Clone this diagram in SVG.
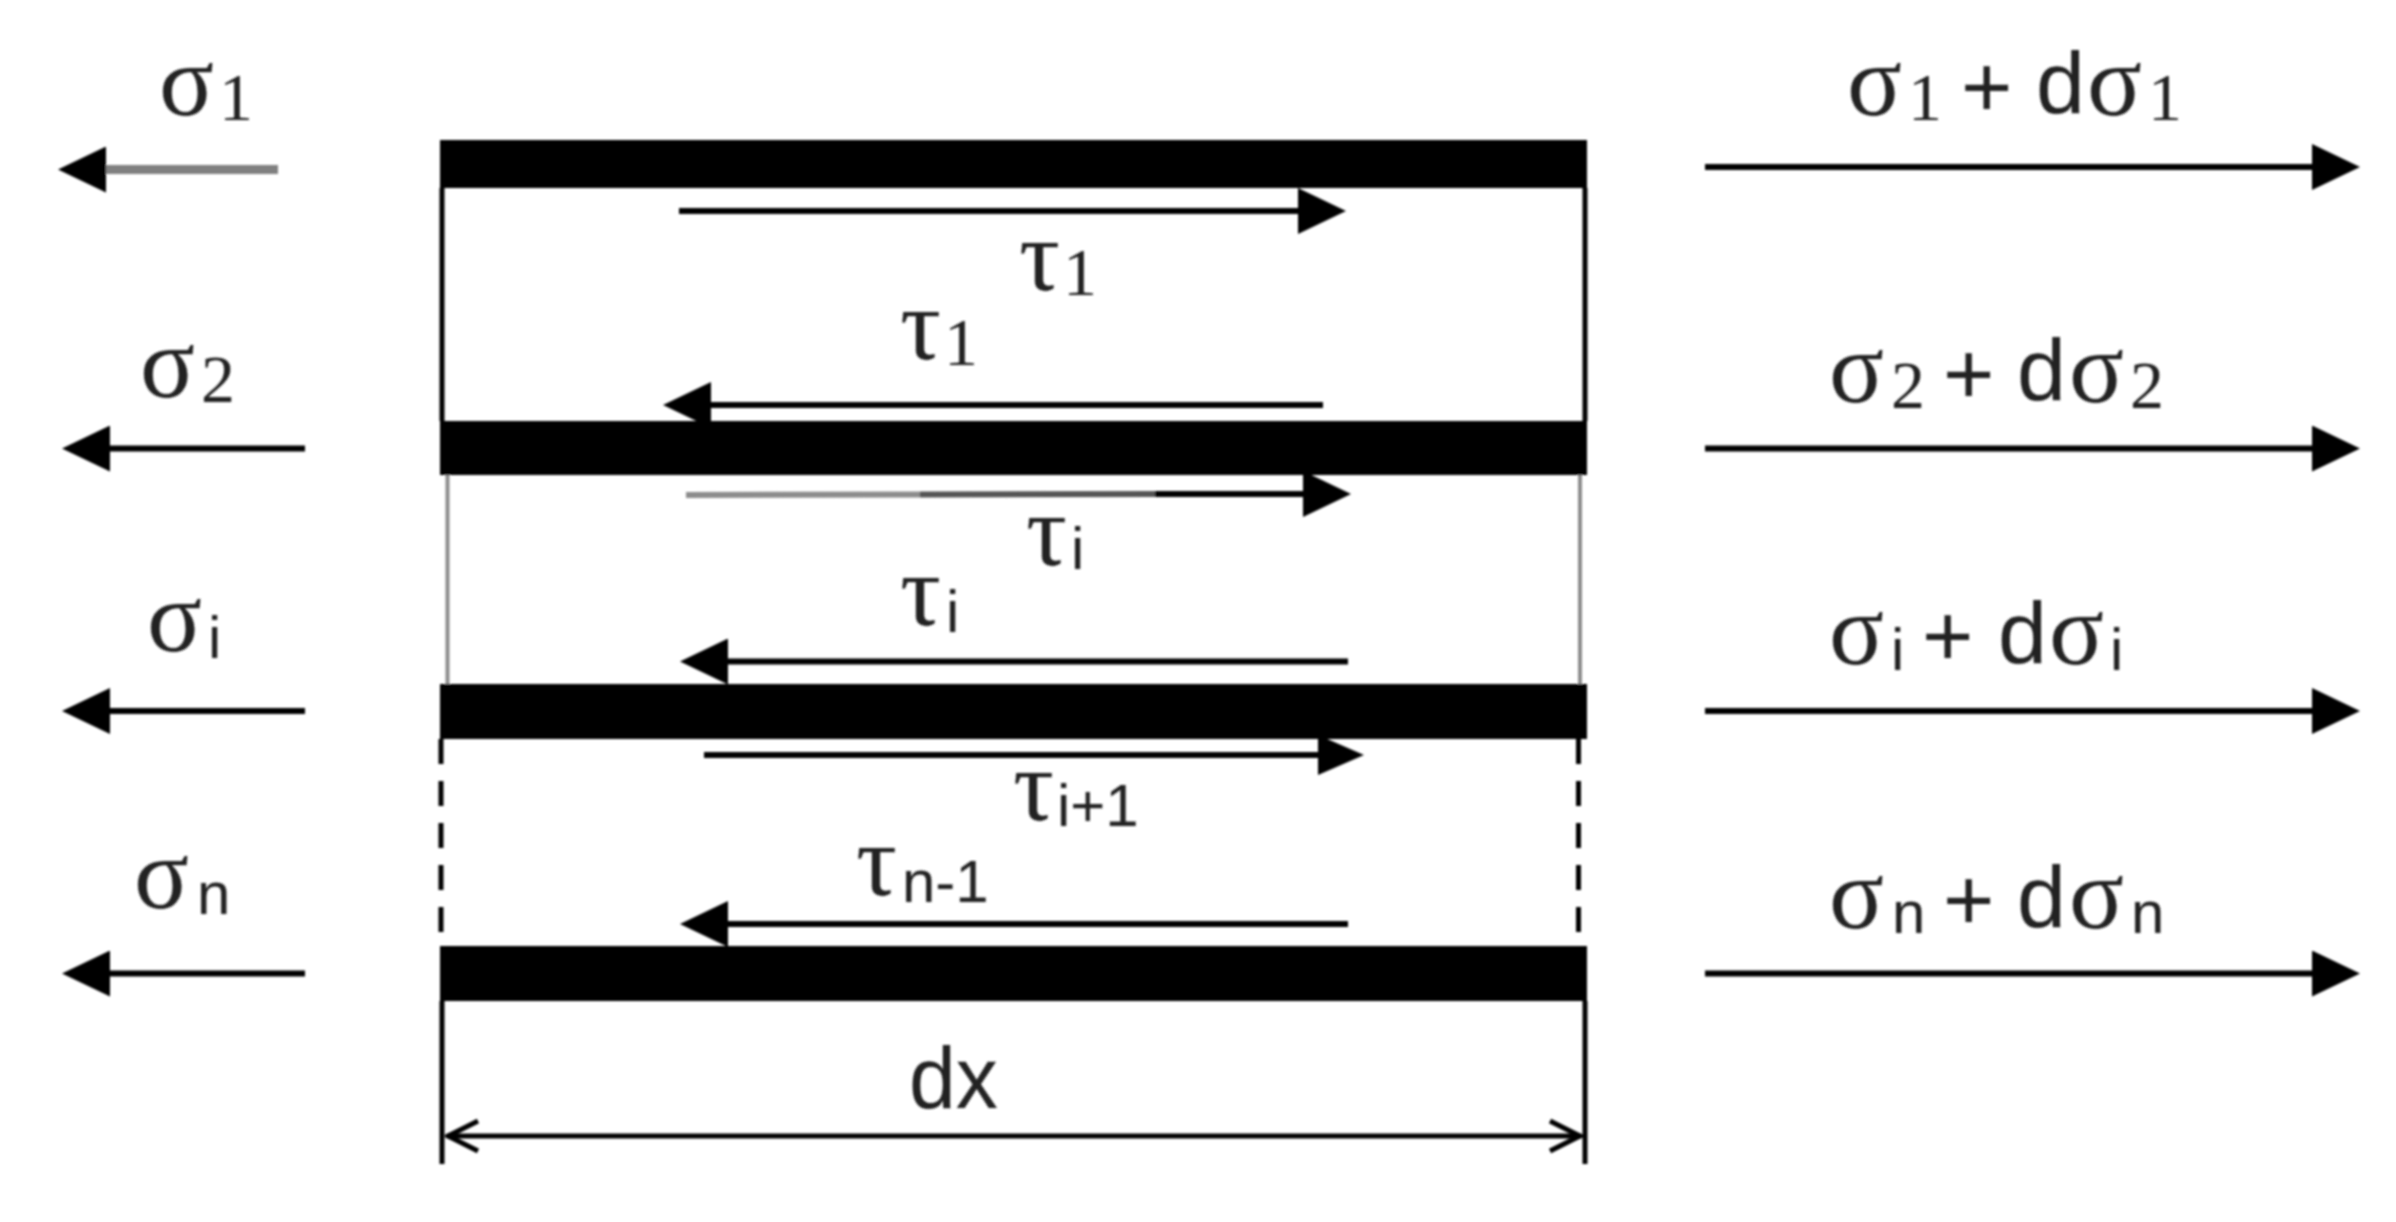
<svg xmlns="http://www.w3.org/2000/svg" width="2396" height="1222" viewBox="0 0 2396 1222">
<style>
.bg{fill:#fff}
.bar{fill:#000}
.a{stroke:#000;stroke-width:6;fill:none}
.v{stroke:#000;stroke-width:5;fill:none}
.g{stroke:#8c8c8c;stroke-width:4;fill:none}
.d{stroke:#000;stroke-width:5;fill:none;stroke-dasharray:25 17}
text{fill:#222;font-family:"Liberation Serif",serif;font-size:102px}
.s{font-size:68px}
.n{font-family:"Liberation Sans",sans-serif;font-size:60px}
.m{font-family:"Liberation Sans",sans-serif;font-size:88px}
</style>
<defs>
<marker id="h" markerUnits="userSpaceOnUse" markerWidth="48" markerHeight="46" refX="0" refY="23" orient="auto-start-reverse"><path d="M0 0L48 23L0 46Z" fill="#000"/></marker>
<marker id="h2" markerUnits="userSpaceOnUse" markerWidth="48" markerHeight="40" refX="0" refY="20" orient="auto-start-reverse"><path d="M0 0L46 20L0 40Z" fill="#000"/></marker>
<marker id="o" markerUnits="userSpaceOnUse" markerWidth="36" markerHeight="36" refX="34" refY="18" orient="auto-start-reverse"><path d="M3 3L33 18L3 33" fill="none" stroke="#000" stroke-width="5"/></marker>
<filter id="b" x="-5%" y="-5%" width="110%" height="110%"><feGaussianBlur stdDeviation="1"/></filter>
</defs>
<rect class="bg" width="2396" height="1222"/>
<g filter="url(#b)">
<g id="connectors">
<line x1="442" y1="188" x2="442" y2="421" class="v"/>
<line x1="1585" y1="188" x2="1585" y2="421" class="v"/>
<line x1="447.500" y1="475" x2="447.500" y2="684" class="g"/>
<line x1="1580" y1="475" x2="1580" y2="684" class="g"/>
<line x1="441" y1="739" x2="441" y2="943" class="d"/>
<line x1="1578.500" y1="739" x2="1578.500" y2="943" class="d"/>
<line x1="442" y1="1001" x2="442" y2="1164" class="v"/>
<line x1="1585" y1="1001" x2="1585" y2="1164" class="v"/>
<line x1="278" y1="169.500" x2="106" y2="169.500" stroke="#808080" stroke-width="9" marker-end="url(#h)"/>
<line x1="305" y1="448.500" x2="110" y2="448.500" class="a" marker-end="url(#h)"/>
<line x1="305" y1="711" x2="110" y2="711" class="a" marker-end="url(#h)"/>
<line x1="305" y1="973.500" x2="110" y2="973.500" class="a" marker-end="url(#h)"/>
<line x1="1705" y1="167" x2="2312" y2="167" class="a" marker-end="url(#h)"/>
<line x1="1705" y1="448.500" x2="2312" y2="448.500" class="a" marker-end="url(#h)"/>
<line x1="1705" y1="711" x2="2312" y2="711" class="a" marker-end="url(#h)"/>
<line x1="1705" y1="973.500" x2="2312" y2="973.500" class="a" marker-end="url(#h)"/>
<line x1="679" y1="211" x2="1298" y2="211" class="a" marker-end="url(#h)"/>
<line x1="1323" y1="405" x2="711" y2="405" class="a" marker-end="url(#h)"/>
<line x1="686" y1="495" x2="920" y2="494.500" stroke="#8c8c8c" stroke-width="6"/>
<line x1="920" y1="494.500" x2="1155" y2="494" stroke="#555" stroke-width="6"/>
<line x1="1155" y1="494" x2="1303" y2="494" class="a" marker-end="url(#h)"/>
<line x1="1348" y1="661.500" x2="728" y2="661.500" class="a" marker-end="url(#h)"/>
<line x1="704" y1="755" x2="1318" y2="755" class="a" marker-end="url(#h2)"/>
<line x1="1348" y1="924" x2="728" y2="924" class="a" marker-end="url(#h)"/>
<line x1="447" y1="1136" x2="1581" y2="1136" class="a" style="stroke-width:5" marker-start="url(#o)" marker-end="url(#o)"/>
</g>
<g id="layer-1"><rect class="bar" x="440" y="140" width="1147" height="48"/></g>
<g id="layer-2"><rect class="bar" x="440" y="421" width="1147" height="54"/></g>
<g id="layer-3"><rect class="bar" x="440" y="684" width="1147" height="55"/></g>
<g id="layer-4"><rect class="bar" x="440" y="946" width="1147" height="55"/></g>
<g id="stress-left">
<text x="159" y="115">σ<tspan class="s" x="219" y="120">1</tspan></text>
<text x="140" y="397">σ<tspan class="s" x="201" y="402">2</tspan></text>
<text x="147" y="651">σ<tspan class="n" x="208" y="658">i</tspan></text>
<text x="134" y="908">σ<tspan class="n" x="197" y="914">n</tspan></text>
</g>
<g id="stress-right">
<text x="1847" y="115">σ<tspan class="s" x="1908" y="120">1</tspan><tspan class="m" x="1961" y="117">+</tspan><tspan class="m" x="2036" y="113">d</tspan><tspan x="2087" y="115">σ</tspan><tspan class="s" x="2148" y="120">1</tspan></text>
<text x="1829" y="402">σ<tspan class="s" x="1891" y="408">2</tspan><tspan class="m" x="1943" y="404">+</tspan><tspan class="m" x="2017" y="400">d</tspan><tspan x="2069" y="402">σ</tspan><tspan class="s" x="2130" y="408">2</tspan></text>
<text x="1829" y="664">σ<tspan class="n" x="1891" y="670">i</tspan><tspan class="m" x="1922" y="666">+</tspan><tspan class="m" x="1998" y="663">d</tspan><tspan x="2049" y="664">σ</tspan><tspan class="n" x="2110" y="670">i</tspan></text>
<text x="1829" y="928">σ<tspan class="n" x="1892" y="933">n</tspan><tspan class="m" x="1943" y="930">+</tspan><tspan class="m" x="2017" y="927">d</tspan><tspan x="2069" y="928">σ</tspan><tspan class="n" x="2131" y="933">n</tspan></text>
</g>
<g id="shear">
<text x="1019" y="290">τ<tspan class="s" x="1063" y="295">1</tspan></text>
<text x="900" y="359">τ<tspan class="s" x="944" y="365">1</tspan></text>
<text x="1026" y="565">τ<tspan class="n" x="1071" y="569">i</tspan></text>
<text x="900" y="625">τ<tspan class="n" x="946" y="632">i</tspan></text>
<text x="1013" y="820">τ<tspan class="n" x="1057" y="826">i+1</tspan></text>
<text x="856" y="895">τ<tspan class="n" x="902" y="902">n-1</tspan></text>
</g>
<g id="dim"><text class="m" x="909" y="1108" textLength="89" lengthAdjust="spacingAndGlyphs">dx</text></g>
</g>
</svg>
